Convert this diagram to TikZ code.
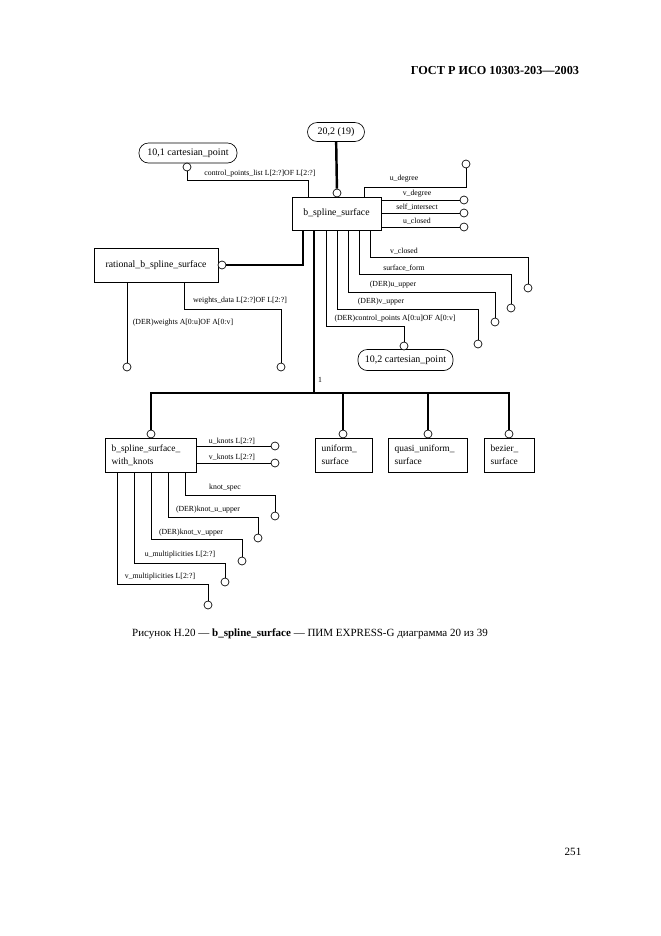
\documentclass[tikz,border=0pt]{standalone}
\usepackage{fontspec}
\setmainfont{Liberation Serif}
\usepackage{tikz}
\usetikzlibrary{positioning}

\begin{document}
\begin{tikzpicture}[x=0.9pt, y=-0.9pt,
    entity/.style={draw, line width=0.6pt, font=\fontsize{8.8}{10}\selectfont, inner sep=2pt},
    subent/.style={entity, align=left, font=\fontsize{8.5}{11.5}\selectfont,
                   inner xsep=6pt, minimum height=30.6pt},
    pageref/.style={draw, line width=0.6pt, rounded corners=8.5pt,
                    font=\fontsize{9}{10}\selectfont, inner sep=2pt},
    ring/.style={circle, draw, fill=white, line width=0.6pt, minimum size=7.2pt, inner sep=0pt},
    attr/.style={line width=0.6pt},
    super/.style={line width=2.2pt},
    lbl/.style={font=\fontsize{7}{8}\selectfont, inner sep=0pt}]

  \useasboundingbox (0,0) rectangle (661,936);

  \node[font=\bfseries\fontsize{11}{13}\selectfont, anchor=east] (hdr) at (583,70)
    {ГОСТ Р ИСО 10303-203—2003};

  % entities
  \node[pageref, minimum width=51.3pt, minimum height=17pt] (ref20) at (336,132) {20,2 (19)};
  \node[pageref, minimum width=88.2pt, minimum height=18pt] (ref101) at (188,153) {10,1 cartesian\_point};
  \node[pageref, minimum width=85.5pt, minimum height=19pt] (ref102) at (405.5,360) {10,2 cartesian\_point};
  \node[entity, minimum width=80pt, minimum height=29.7pt] (bss) at (336.5,213.5) {b\_spline\_surface};
  \node[entity, minimum width=111.6pt, minimum height=30.6pt] (rbss) at (156,265) {rational\_b\_spline\_surface};
  \node[subent, text width=70pt] (bsswk) at (150.5,455) {b\_spline\_surface\_\\with\_knots};
  \node[subent, text width=39.3pt] (unif) at (343.5,455) {uniform\_\\surface};
  \node[subent, text width=59.1pt] (quasi) at (427.5,455) {quasi\_uniform\_\\surface};
  \node[subent, text width=33pt] (bez) at (509,455) {bezier\_\\surface};

  % rings
  \node[ring] (c20) at (337,193) {};
  \node[ring] (c101) at (187,167) {};
  \node[ring] (crb) at (222,265) {};
  \node[ring] (c102) at (404,346) {};
  \node[ring] (cwk) at (151,434) {};
  \node[ring] (cun) at (343,434) {};
  \node[ring] (cqu) at (428,434) {};
  \node[ring] (cbz) at (509,434) {};

  \node[ring] (eud) at (466,164) {};
  \node[ring] (evd) at (464,200) {};
  \node[ring] (esi) at (464,213) {};
  \node[ring] (euc) at (464,227) {};
  \node[ring] (evc) at (528,288) {};
  \node[ring] (esf) at (511,308) {};
  \node[ring] (euu) at (495,322) {};
  \node[ring] (evu) at (478,344) {};
  \node[ring] (ew) at (127,367) {};
  \node[ring] (ewd) at (281,367) {};
  \node[ring] (euk) at (275,446) {};
  \node[ring] (evk) at (275,463) {};
  \node[ring] (eks) at (275,516) {};
  \node[ring] (eku) at (258,538) {};
  \node[ring] (ekv) at (242,561) {};
  \node[ring] (eum) at (225,582) {};
  \node[ring] (evm) at (208,605) {};

  % supertype links
  \coordinate (bus) at (314,393);
  \draw[super] (ref20) -- (c20);
  \draw[super] (bss.south -| bus) -- (bus);
  \draw[super] (cwk) -- (cwk |- bus) -- (cbz |- bus) -- (cbz);
  \draw[super] (cun |- bus) -- (cun);
  \draw[super] (cqu |- bus) -- (cqu);
  \draw[super] (crb) -| (bss.south -| 303,0);
  \node[lbl] (one) at (320,380) {1};

  % attributes of b_spline_surface
  \draw[attr] (c101) |- (308,180) -- (bss.north -| 308,0);
  \draw[attr] (bss.north -| 364,0) -- (364,187) -| (eud);
  \draw[attr] (bss.east |- 0,200) -- (evd);
  \draw[attr] (bss.east |- 0,213) -- (esi);
  \draw[attr] (bss.east |- 0,227) -- (euc);
  \draw[attr] (bss.south -| 370,0) -- (370,257) -| (evc);
  \draw[attr] (bss.south -| 359,0) -- (359,274) -| (esf);
  \draw[attr] (bss.south -| 348,0) -- (348,292) -| (euu);
  \draw[attr] (bss.south -| 337,0) -- (337,309) -| (evu);
  \draw[attr] (bss.south -| 326,0) -- (326,326) -| (c102);
  \node[lbl] (lcpl) at (260,174) {control\_points\_list L[2:?]OF L[2:?]};
  \node[lbl] (lud) at (404,179) {u\_degree};
  \node[lbl] (lvd) at (417,194) {v\_degree};
  \node[lbl] (lsi) at (417,207) {self\_intersect};
  \node[lbl] (luc) at (417,221) {u\_closed};
  \node[lbl] (lvc) at (404,251) {v\_closed};
  \node[lbl] (lsf) at (404,268) {surface\_form};
  \node[lbl] (luu) at (393,285) {(DER)u\_upper};
  \node[lbl] (lvu) at (381,302) {(DER)v\_upper};
  \node[lbl] (lcp) at (395,319) {(DER)control\_points A[0:u]OF A[0:v]};

  % attributes of rational_b_spline_surface
  \draw[attr] (rbss.south -| 127,0) -- (ew);
  \draw[attr] (rbss.south -| 184,0) -- (184,309) -| (ewd);
  \node[lbl] (lw) at (183,323) {(DER)weights A[0:u]OF A[0:v]};
  \node[lbl] (lwd) at (240,301) {weights\_data L[2:?]OF L[2:?]};

  % attributes of b_spline_surface_with_knots
  \draw[attr] (bsswk.east |- 0,446) -- (euk);
  \draw[attr] (bsswk.east |- 0,463) -- (evk);
  \draw[attr] (bsswk.south -| 185,0) -- (185,495) -| (eks);
  \draw[attr] (bsswk.south -| 168,0) -- (168,517) -| (eku);
  \draw[attr] (bsswk.south -| 151,0) -- (151,539) -| (ekv);
  \draw[attr] (bsswk.south -| 134,0) -- (134,563) -| (eum);
  \draw[attr] (bsswk.south -| 117,0) -- (117,584) -| (evm);
  \node[lbl] (luk) at (232,441) {u\_knots L[2:?]};
  \node[lbl] (lvk) at (232,457) {v\_knots L[2:?]};
  \node[lbl] (lks) at (225,488) {knot\_spec};
  \node[lbl] (lku) at (208,510) {(DER)knot\_u\_upper};
  \node[lbl] (lkv) at (191,533) {(DER)knot\_v\_upper};
  \node[lbl] (lum) at (180,555) {u\_multiplicities L[2:?]};
  \node[lbl] (lvm) at (160,577) {v\_multiplicities L[2:?]};

  \node[font=\fontsize{9.9}{11}\selectfont] (cap) at (310,634)
    {Рисунок Н.20 — \textbf{b\_spline\_surface} — ПИМ EXPRESS-G диаграмма 20 из 39};
  \node[font=\fontsize{10}{12}\selectfont] (pg) at (573,852) {251};
\end{tikzpicture}
\end{document}
